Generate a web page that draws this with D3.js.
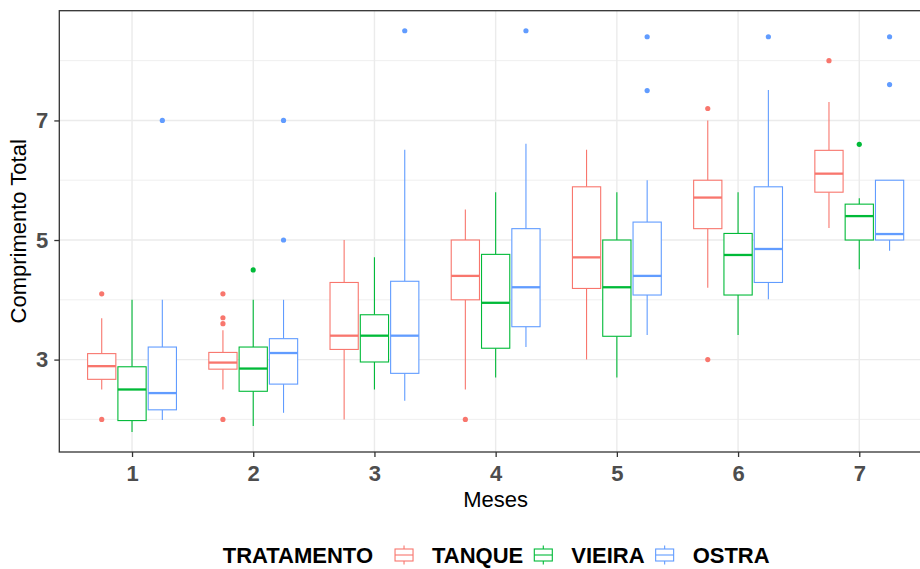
<!DOCTYPE html>
<html>
<head>
<meta charset="utf-8">
<script src="https://cdn.jsdelivr.net/npm/d3@7"></script>
<style>
  body { margin: 0; background: #fff; }
  text { font-family: "Liberation Sans", Arial, sans-serif; }
</style>
</head>
<body>
<svg id="chart" width="920" height="569"></svg>
<script>
// months and treatments
var meses = [1, 2, 3, 4, 5, 6, 7];
var tratamentos = ["TANQUE", "VIEIRA", "OSTRA"];
var cores = ["#F8766D", "#00BA38", "#619CFF"];

// TANQUE
var tanqueMin = [2.5, 2.5, 2.0, 2.5, 3.0, 4.2, 5.2];
var tanqueQ1  = [2.67, 2.84, 3.17, 4.0, 4.19, 5.19, 5.8];
var tanqueMed = [2.89, 2.95, 3.4, 4.4, 4.71, 5.71, 6.11];
var tanqueQ3  = [3.1, 3.12, 4.29, 5.0, 5.89, 6.0, 6.5];
var tanqueMax = [3.69, 3.49, 5.0, 5.51, 6.51, 7.0, 7.31];
var tanqueOut = [[4.1, 2.0], [4.1, 3.7, 3.6, 2.0], [], [2.0], [], [7.2, 3.0], [8.0]];

// VIEIRA
var vieiraMin = [1.79, 1.89, 2.5, 2.7, 2.7, 3.41, 4.51];
var vieiraQ1  = [1.98, 2.47, 2.96, 3.19, 3.39, 4.08, 5.0];
var vieiraMed = [2.5, 2.85, 3.4, 3.95, 4.21, 4.75, 5.4];
var vieiraQ3  = [2.88, 3.21, 3.75, 4.76, 5.0, 5.11, 5.6];
var vieiraMax = [4.0, 4.0, 4.71, 5.8, 5.8, 5.8, 5.7];
var vieiraOut = [[], [4.5], [], [], [], [], [6.6]];

// OSTRA
var ostraMin = [1.99, 2.11, 2.31, 3.21, 3.41, 4.01, 4.82];
var ostraQ1  = [2.16, 2.59, 2.77, 3.55, 4.08, 4.29, 5.0];
var ostraMed = [2.44, 3.11, 3.4, 4.21, 4.4, 4.85, 5.1];
var ostraQ3  = [3.21, 3.35, 4.31, 5.19, 5.3, 5.89, 6.0];
var ostraMax = [4.0, 4.0, 6.51, 6.61, 6.0, 7.51, 6.0];
var ostraOut = [[7.0], [7.0, 5.0], [8.5], [8.5], [8.4, 7.5], [8.4], [8.4, 7.6]];

var yMajor = [3, 5, 7];
var yMinor = [2, 4, 6, 8];

var series = [
  {min: tanqueMin, q1: tanqueQ1, med: tanqueMed, q3: tanqueQ3, max: tanqueMax, out: tanqueOut},
  {min: vieiraMin, q1: vieiraQ1, med: vieiraMed, q3: vieiraQ3, max: vieiraMax, out: vieiraOut},
  {min: ostraMin, q1: ostraQ1, med: ostraMed, q3: ostraQ3, max: ostraMax, out: ostraOut}
];

var boxes = [];
series.forEach(function(s, i) {
  meses.forEach(function(m, j) {
    boxes.push({mes: m, t: i, min: s.min[j], q1: s.q1[j], med: s.med[j],
                q3: s.q3[j], max: s.max[j], out: s.out[j]});
  });
});

var svg = d3.select("#chart"),
    margin = {top: 10.7, left: 59.3},
    panelRight = 932, panelBottom = 452;

// y domain like ggplot: data range + 5%
var allVals = [];
boxes.forEach(function(b) { allVals.push(b.min, b.max); allVals = allVals.concat(b.out); });
var lo = d3.min(allVals), hi = d3.max(allVals), pad = (hi - lo) * 0.05;

var x = d3.scaleLinear().domain([0.4, 7.6]).range([margin.left, panelRight]);
var y = d3.scaleLinear().domain([lo - pad, hi + pad]).range([panelBottom, margin.top]);

var dodge = 0.25, boxW = 0.233;

// grid
var g = svg.append("g");
g.selectAll(".minor").data(yMinor).enter().append("line")
  .attr("x1", margin.left).attr("x2", panelRight)
  .attr("y1", function(d) { return y(d); }).attr("y2", function(d) { return y(d); })
  .attr("stroke", "#ebebeb").attr("stroke-width", 0.8);
g.selectAll(".major").data(yMajor).enter().append("line")
  .attr("x1", margin.left).attr("x2", panelRight)
  .attr("y1", function(d) { return y(d); }).attr("y2", function(d) { return y(d); })
  .attr("stroke", "#ebebeb").attr("stroke-width", 1.4);
g.selectAll(".vmajor").data(meses).enter().append("line")
  .attr("y1", margin.top).attr("y2", panelBottom)
  .attr("x1", function(d) { return x(d); }).attr("x2", function(d) { return x(d); })
  .attr("stroke", "#ebebeb").attr("stroke-width", 1.4);

// boxplots
var bx = svg.append("g").selectAll("g").data(boxes).enter().append("g");
function cx(d) { return x(d.mes + (d.t - 1) * dodge); }
function col(d) { return cores[d.t]; }

bx.append("line").attr("x1", cx).attr("x2", cx)
  .attr("y1", function(d) { return y(d.q3); }).attr("y2", function(d) { return y(d.max); })
  .attr("stroke", col).attr("stroke-width", 1.1);
bx.append("line").attr("x1", cx).attr("x2", cx)
  .attr("y1", function(d) { return y(d.q1); }).attr("y2", function(d) { return y(d.min); })
  .attr("stroke", col).attr("stroke-width", 1.1);
bx.append("rect")
  .attr("x", function(d) { return x(d.mes + (d.t - 1) * dodge - boxW / 2); })
  .attr("width", x(boxW) - x(0))
  .attr("y", function(d) { return y(d.q3); })
  .attr("height", function(d) { return y(d.q1) - y(d.q3); })
  .attr("fill", "white").attr("stroke", col).attr("stroke-width", 1.1);
bx.append("line")
  .attr("x1", function(d) { return x(d.mes + (d.t - 1) * dodge - boxW / 2); })
  .attr("x2", function(d) { return x(d.mes + (d.t - 1) * dodge + boxW / 2); })
  .attr("y1", function(d) { return y(d.med); }).attr("y2", function(d) { return y(d.med); })
  .attr("stroke", col).attr("stroke-width", 2.3);
bx.selectAll("circle").data(function(d) { return d.out.map(function(v) { return {v: v, b: d}; }); })
  .enter().append("circle")
  .attr("cx", function(o) { return cx(o.b); })
  .attr("cy", function(o) { return y(o.v); })
  .attr("r", 2.6)
  .attr("fill", function(o) { return col(o.b); });

// panel border
svg.append("rect").attr("x", margin.left).attr("y", margin.top)
  .attr("width", panelRight - margin.left).attr("height", panelBottom - margin.top)
  .attr("fill", "none").attr("stroke", "#333333").attr("stroke-width", 1.3);

// axes
var xAxis = svg.append("g").attr("transform", "translate(0," + panelBottom + ")")
  .call(d3.axisBottom(x).tickValues(meses).tickSize(5).tickPadding(8).tickFormat(d3.format("d")));
var yAxis = svg.append("g").attr("transform", "translate(" + margin.left + ",0)")
  .call(d3.axisLeft(y).tickValues(yMajor).tickSize(5).tickPadding(6));
[xAxis, yAxis].forEach(function(a) {
  a.select(".domain").remove();
  a.selectAll(".tick line").attr("stroke", "#333333").attr("stroke-width", 1.3);
  a.selectAll(".tick text").attr("fill", "#4d4d4d").style("font-size", "22px")
    .style("font-weight", "bold").style("font-family", "'Liberation Sans', Arial, sans-serif");
});

svg.append("text").attr("x", (margin.left + panelRight) / 2).attr("y", 507)
  .attr("text-anchor", "middle").style("font-size", "22px").text("Meses");
svg.append("text").attr("transform", "translate(26," + ((margin.top + panelBottom) / 2) + ") rotate(-90)")
  .attr("text-anchor", "middle").style("font-size", "22px").text("Comprimento Total");

// legend
var leg = svg.append("g");
var lx = 222.7, ly = 563;
var t = leg.append("text").attr("x", lx).attr("y", ly).style("font-size", "22px")
  .style("font-weight", "bold").text("TRATAMENTO");
lx += t.node().getComputedTextLength() + 19;
tratamentos.forEach(function(name, i) {
  var k = 24, top = 543, c = cores[i];
  var kg = leg.append("g").attr("transform", "translate(" + lx + "," + top + ")");
  kg.append("line").attr("x1", k / 2).attr("x2", k / 2).attr("y1", k * 0.1).attr("y2", k * 0.9)
    .attr("stroke", c).attr("stroke-width", 1.1);
  kg.append("rect").attr("x", k * 0.125).attr("y", k * 0.25).attr("width", k * 0.75).attr("height", k * 0.5)
    .attr("fill", "white").attr("stroke", c).attr("stroke-width", 1.1);
  kg.append("line").attr("x1", k * 0.125).attr("x2", k * 0.875).attr("y1", k / 2).attr("y2", k / 2)
    .attr("stroke", c).attr("stroke-width", 1.1);
  lx += k + 16;
  var tt = leg.append("text").attr("x", lx).attr("y", ly).style("font-size", "22px")
    .style("font-weight", "bold").text(name);
  lx += tt.node().getComputedTextLength() + 8;
});
</script>
</body>
</html>
